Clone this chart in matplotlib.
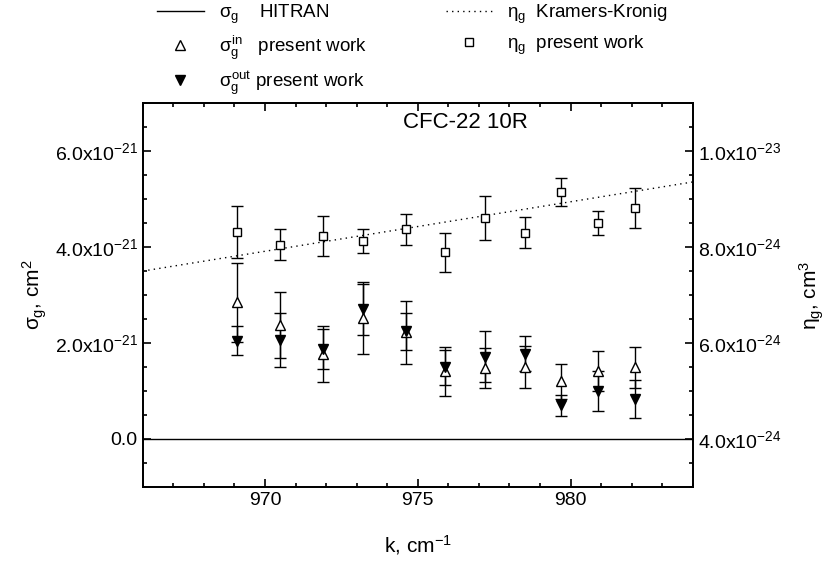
# Import the required libraries
import numpy as np
import matplotlib.pyplot as plt
from matplotlib.ticker import MultipleLocator, FuncFormatter

plt.rcParams['font.family'] = ['Liberation Sans', 'DejaVu Sans']
plt.rcParams['mathtext.fontset'] = 'custom'
plt.rcParams['mathtext.rm'] = 'Liberation Sans'
plt.rcParams['mathtext.it'] = 'Liberation Sans'
plt.rcParams['mathtext.bf'] = 'Liberation Sans:bold'
plt.rcParams['axes.unicode_minus'] = False

# ---------------- Data ----------------
# CO2 laser 10R lines, wavenumber in cm^-1
k = [969.1, 970.5, 971.9, 973.2, 974.6, 975.9, 977.2, 978.5, 979.7, 980.9, 982.1]

# sigma_g in / out, units of 1e-21 cm^2
sigma_in = [2.85, 2.38, 1.77, 2.53, 2.22, 1.41, 1.47, 1.49, 1.20, 1.41, 1.49]
sigma_in_err = [0.82, 0.69, 0.59, 0.75, 0.65, 0.51, 0.42, 0.44, 0.36, 0.42, 0.43]
sigma_out = [2.05, 2.06, 1.88, 2.70, 2.24, 1.49, 1.71, 1.78, 0.70, 1.00, 0.83]
sigma_out_err = [0.30, 0.56, 0.42, 0.53, 0.38, 0.36, 0.53, 0.36, 0.22, 0.42, 0.40]

# eta_g, units of 1e-24 cm^3
eta = [8.31, 8.05, 8.23, 8.13, 8.37, 7.89, 8.61, 8.30, 9.15, 8.51, 8.81]
eta_err = [0.54, 0.32, 0.42, 0.25, 0.32, 0.40, 0.46, 0.32, 0.29, 0.25, 0.42]

# HITRAN sigma_g (zero in this band) and Kramers-Kronig eta_g
hitran_k = [966, 984]
hitran_sigma = [0.0, 0.0]
kk_k = [966, 984]
kk_eta = [7.50, 9.36]

s21 = 1e-21
s24 = 1e-24


def sci_fmt(v, pos):
    if abs(v) < 1e-30:
        return "0.0"
    e = int(np.floor(np.log10(abs(v)) + 1e-9))
    return r"%.1fx10$^{%d}$" % (v / 10**e, e)


# ---------------- Figure ----------------
fig = plt.figure(figsize=(8.25, 5.68), dpi=100)
ax = fig.add_axes([0.173, 0.1431, 0.6667, 0.6749])
ax2 = ax.twinx()

h_hit, = ax.plot(hitran_k, np.array(hitran_sigma) * s21, color='black', lw=1.0)

ax.errorbar(k, np.array(sigma_in) * s21, yerr=np.array(sigma_in_err) * s21,
            fmt='none', ecolor='black', elinewidth=1.0, capsize=4, capthick=1.0)
ax.errorbar(k, np.array(sigma_out) * s21, yerr=np.array(sigma_out_err) * s21,
            fmt='none', ecolor='black', elinewidth=1.0, capsize=4, capthick=1.0)
h_in, = ax.plot(k, np.array(sigma_in) * s21, ls='none', marker='^', ms=7,
                mfc='white', mec='black', mew=1.0)
h_out, = ax.plot(k, np.array(sigma_out) * s21, ls='none', marker='v', ms=7,
                 mfc='black', mec='black')

h_kk, = ax2.plot(kk_k, np.array(kk_eta) * s24, color='black', ls=(0, (1, 3)), lw=1.0)
ax2.errorbar(k, np.array(eta) * s24, yerr=np.array(eta_err) * s24,
             fmt='none', ecolor='black', elinewidth=1.0, capsize=4, capthick=1.0)
h_eta, = ax2.plot(k, np.array(eta) * s24, ls='none', marker='s', ms=6,
                  mfc='white', mec='black', mew=1.0)

# axes ranges and ticks
ax.set_xlim(966, 984)
ax.set_ylim(-1 * s21, 7 * s21)
ax2.set_ylim(3 * s24, 11 * s24)
ax.xaxis.set_major_locator(MultipleLocator(5))
ax.xaxis.set_minor_locator(MultipleLocator(1))
ax.yaxis.set_major_locator(MultipleLocator(2 * s21))
ax.yaxis.set_minor_locator(MultipleLocator(0.5 * s21))
ax2.yaxis.set_major_locator(MultipleLocator(2 * s24))
ax2.yaxis.set_minor_locator(MultipleLocator(0.5 * s24))
ax.yaxis.set_major_formatter(FuncFormatter(sci_fmt))
ax2.yaxis.set_major_formatter(FuncFormatter(sci_fmt))
ax.yaxis.get_offset_text().set_visible(False)
ax2.yaxis.get_offset_text().set_visible(False)

ax.tick_params(which='both', direction='in', top=True, right=False, labelsize=14, width=1.2)
ax.tick_params(which='major', length=6)
ax.tick_params(which='minor', length=3)
ax2.tick_params(which='both', direction='in', labelsize=14, width=1.2)
ax2.tick_params(which='major', length=6)
ax2.tick_params(which='minor', length=3)
for a in (ax, ax2):
    for s in a.spines.values():
        s.set_linewidth(1.3)

ax.set_xlabel(r"k, cm$^{-1}$", fontsize=15, labelpad=18)
ax.set_ylabel(r"$\sigma_g$, cm$^2$", fontsize=15)
ax2.set_ylabel(r"$\eta_g$, cm$^3$", fontsize=15, rotation=90, labelpad=12)

ax.text(0.586, 0.949, "CFC-22 10R", transform=ax.transAxes, fontsize=16,
        ha='center', va='center')

fig.legend([h_hit, h_in, h_out, h_kk, h_eta],
           [r"$\sigma_g$    HITRAN", r"$\sigma_g^{in}$   present work",
            r"$\sigma_g^{out}$ present work", r"$\eta_g$  Kramers-Kronig",
            r"$\eta_g$  present work"],
           ncol=2, loc='upper center', bbox_to_anchor=(0.5, 1.025), frameon=False,
           fontsize=13.5, handlelength=2.5, columnspacing=4.2, labelspacing=0.4)

plt.savefig("out.png", dpi=100)
